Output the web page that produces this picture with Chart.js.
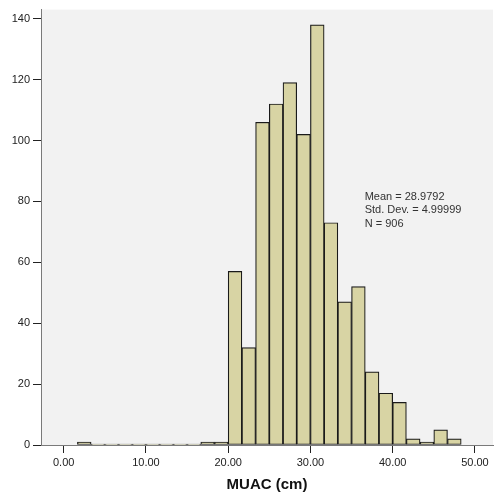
<!DOCTYPE html>
<html>
<head>
<meta charset="utf-8">
<script src="https://cdn.jsdelivr.net/npm/chart.js@4"></script>
<style>
  html, body { margin: 0; padding: 0; background: #fff; }
  #wrap { width: 494px; height: 498px; }
</style>
</head>
<body>
<div id="wrap"><canvas id="hist" width="494" height="498"></canvas></div>
<script>
// ── Histogram data (MUAC, bins of 1.667 cm starting at 1.667) ─────────────
const binStart = 5 / 3;
const binWidth = 5 / 3;
const counts = [1, 0, 0, 0, 0, 0, 0, 0, 0, 1, 1, 57, 32, 106, 112, 119, 102, 138,
                73, 47, 52, 24, 17, 14, 2, 1, 5, 2];
const xTicks = [0, 10, 20, 30, 40, 50];
const yTicks = [0, 20, 40, 60, 80, 100, 120, 140];
const statsLines = ['Mean = 28.9792', 'Std. Dev. = 4.99999', 'N = 906'];

const FONT = '"Liberation Sans", Arial, sans-serif';

// Plot area background + summary box
const plotBg = {
    id: 'plotBg',
    beforeDraw(chart) {
        const { ctx, chartArea: a } = chart;
        ctx.save();
        ctx.fillStyle = '#f2f2f2';
        ctx.fillRect(a.left, a.top, a.right - a.left, a.bottom - a.top);
        ctx.restore();
    },
    afterDraw(chart) {
        const { ctx, scales } = chart;
        const x = scales.x.getPixelForValue(36.6);
        const y = scales.y.getPixelForValue(81.5);
        ctx.save();
        ctx.font = '11px ' + FONT;
        ctx.fillStyle = '#333';
        ctx.textBaseline = 'middle';
        statsLines.forEach((t, i) => ctx.fillText(t, x, y + i * 13.5));
        ctx.restore();
    },
};

new Chart(document.getElementById('hist'), {
    type: 'bar',
    data: {
        datasets: [{
            data: counts.map((c, i) => ({ x: binStart + binWidth * (i + 0.5), y: c })),
            backgroundColor: '#d8d4a4',
            borderColor: '#1a1a1a',
            borderWidth: 1.2,
            borderSkipped: false,
            barPercentage: 1,
            categoryPercentage: 1,
            minBarLength: 1,
        }],
    },
    options: {
        responsive: false,
        animation: false,
        layout: { padding: { top: 7, right: 1, left: 0, bottom: 0 } },
        plugins: { legend: { display: false }, tooltip: { enabled: false } },
        scales: {
            x: {
                type: 'linear',
                offset: false,
                min: -2.76,
                max: 52.2,
                afterBuildTicks: s => { s.ticks = xTicks.map(v => ({ value: v })); },
                afterFit: s => { s.height = 53; },
                grid: { offset: false, drawOnChartArea: false, drawTicks: true, tickLength: 8, color: '#222' },
                border: { color: '#7a7a7a' },
                ticks: {
                    padding: 3,
                    color: '#222',
                    font: { family: FONT, size: 11 },
                    maxRotation: 0,
                    callback: v => Number(v).toFixed(2),
                },
                title: {
                    display: true,
                    text: 'MUAC (cm)',
                    color: '#111',
                    font: { family: FONT, size: 15, weight: 'bold' },
                    padding: { top: 0, bottom: 4 },
                },
            },
            y: {
                min: 0,
                max: 143,
                afterBuildTicks: s => { s.ticks = yTicks.map(v => ({ value: v })); },
                afterFit: s => { s.width = 41; },
                grid: { drawOnChartArea: false, drawTicks: true, tickLength: 8, color: '#222' },
                border: { color: '#7a7a7a' },
                ticks: {
                    padding: 3,
                    color: '#222',
                    font: { family: FONT, size: 11 },
                },
            },
        },
    },
    plugins: [plotBg],
});
</script>
</body>
</html>
